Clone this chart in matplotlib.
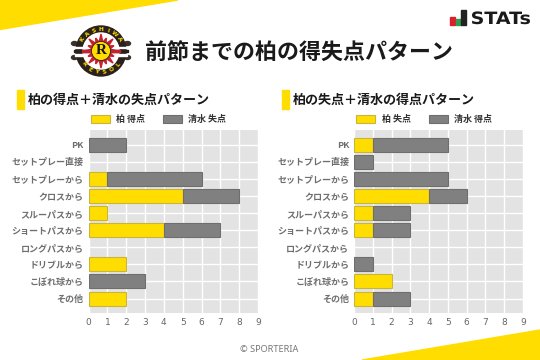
import numpy as np
import matplotlib
matplotlib.use('Agg')
import matplotlib.pyplot as plt
from matplotlib.patches import Circle, Polygon, Rectangle, Ellipse, PathPatch
from matplotlib.textpath import TextPath
from matplotlib.font_manager import FontProperties
from matplotlib.transforms import Affine2D

plt.rcParams['font.family'] = ['Noto Sans CJK JP', 'DejaVu Sans']

categories = ['PK', 'セットプレー直接', 'セットプレーから', 'クロスから', 'スルーパスから',
              'ショートパスから', 'ロングパスから', 'ドリブルから', 'こぼれ球から', 'その他']

left_title = '柏の得点＋清水の失点パターン'
left_names = ['柏 得点', '清水 失点']
left_kashiwa = [0, 0, 1, 5, 1, 4, 0, 2, 0, 2]
left_shimizu = [2, 0, 5, 3, 0, 3, 0, 0, 3, 0]

right_title = '柏の失点＋清水の得点パターン'
right_names = ['柏 失点', '清水 得点']
right_kashiwa = [1, 0, 0, 4, 1, 1, 0, 0, 2, 1]
right_shimizu = [4, 1, 5, 2, 2, 2, 0, 1, 0, 2]

YELLOW = '#FFDD00'
GRAY = '#808080'
W, H = 540, 360


def draw_panel(rect, kashiwa, shimizu, names):
    ax = fig.add_axes([rect[0] / W, 1 - rect[3] / H, (rect[2] - rect[0]) / W, (rect[3] - rect[1]) / H])
    y = np.arange(len(categories))
    k = np.array(kashiwa)
    s = np.array(shimizu)
    ax.set_facecolor('#e3e3e3')
    # zero rows are skipped, otherwise the edge shows up as a tick
    ax.barh(y[k > 0], k[k > 0], height=0.82, color=YELLOW, edgecolor='#c9b53a', linewidth=0.8, label=names[0], zorder=3)
    ax.barh(y[s > 0], s[s > 0], left=k[s > 0], height=0.82, color=GRAY, edgecolor='#6e6e6e', linewidth=0.8, label=names[1], zorder=3)
    ax.set_xlim(0, 9)
    ax.set_ylim(len(categories) - 0.17, -0.87)
    ax.set_xticks(range(10))
    ax.set_yticks(y, categories)
    ax.grid(color='white', linewidth=1.0, zorder=1)
    ax.set_axisbelow(True)
    for sp in ax.spines.values():
        sp.set_visible(False)
    ax.tick_params(axis='x', length=0, labelsize=6.5, labelcolor='#666666', pad=4)
    ax.tick_params(axis='y', length=0, labelsize=6.5, labelcolor='#555555', pad=3.5)
    for t in ax.get_xticklabels():
        t.set_family('DejaVu Sans')
    for t in ax.get_yticklabels():
        t.set_weight('bold')
        t.set_alpha(0.85)
    leg = ax.legend(loc='lower left', bbox_to_anchor=(-0.005, 1.015), ncols=2, frameon=False, fontsize=6.5,
                    handlelength=2.1, handleheight=0.9, handletextpad=0.7, columnspacing=2.0,
                    borderaxespad=0.1, borderpad=0.25, labelcolor='#333333')
    for t in leg.get_texts():
        t.set_weight('bold')
    return ax


def draw_logo(bg):
    cx, cy = 101, 51
    dark = '#2a211c'
    # side wings
    for side in (-1, 1):
        for dy in (-7.5, 6.5):
            bg.add_patch(Ellipse((cx + side * 26.5, cy + dy), 6, 4, color='#3a3028', zorder=3))
    bg.add_patch(Circle((cx, cy), 25, color=dark, zorder=4))
    bg.add_patch(Circle((cx, cy), 18, color='white', zorder=5))
    # sun rays
    for i, a in enumerate(np.arange(0, 360, 22.5)):
        t = np.radians(a)
        r = 17 if i % 2 == 0 else 14
        n = np.array([-np.sin(t), np.cos(t)])
        d = np.array([np.cos(t), np.sin(t)])
        p0 = np.array([cx, cy]) + d * 8
        bg.add_patch(Polygon([p0 + n * 2, p0 - n * 2, np.array([cx, cy]) + d * r], color='#c8202f', zorder=6))
    # white gaps cutting the ring at the sides
    for side in (-1, 1):
        for dy in (-4.5, 3):
            x0 = cx + 17 if side > 0 else cx - 26
            bg.add_patch(Rectangle((x0, cy + dy), 9, 1.6, color='white', zorder=6))
    bg.add_patch(Rectangle((cx - 27, cy - 1.4), 54, 2.8, color=dark, zorder=6))
    bg.add_patch(Rectangle((cx - 19, cy - 0.7), 38, 1.4, color='#c8202f', zorder=6))
    bg.add_patch(Circle((cx, cy), 9.5, color=YELLOW, ec=dark, lw=0.6, zorder=7))
    bg.text(cx, cy, 'R', fontsize=11, family='Liberation Serif', weight='bold', color='#1a1410',
            ha='center', va='center', zorder=8)
    # ring lettering
    for txt, start, stop, sgn in (('KASHIWA', 148, 32, 1), ('REYSOL', 218, 322, -1)):
        for ch, a in zip(txt, np.linspace(start, stop, len(txt))):
            t = np.radians(a)
            bg.text(cx + 21.5 * np.cos(t), cy - 21.5 * np.sin(t), ch, fontsize=4.2, weight='bold',
                    family='DejaVu Sans', color=YELLOW, ha='center', va='center',
                    rotation=a - 90 if sgn > 0 else a + 90, zorder=8)


fig = plt.figure(figsize=(5.4, 3.6), dpi=100, facecolor='white')

# pixel canvas for the decoration
bg = fig.add_axes([0, 0, 1, 1], zorder=0)
bg.set_xlim(0, W)
bg.set_ylim(H, 0)
bg.axis('off')

bg.add_patch(Polygon([(0, 0), (178, 0), (0, 29.5)], color=YELLOW))
bg.add_patch(Polygon([(540, 330), (362, 360), (540, 360)], color=YELLOW))

draw_logo(bg)
bg.text(145, 53, '前節までの柏の得失点パターン', fontsize=15.8, weight='bold', color='#1a1a1a', va='center')

# STATs mark
bg.add_patch(Rectangle((450, 17), 5, 8, color='#d9202c'))
bg.add_patch(Rectangle((455.5, 19), 5, 6, color='#2e9e4f'))
bg.add_patch(Rectangle((461, 10), 4.5, 15, color='#222222'))
stats_path = TextPath((0, 0), 'STATs', size=17, prop=FontProperties(family='DejaVu Sans', weight='bold'))
stats_box = stats_path.get_extents()
sx = 58 / stats_box.width
bg.add_patch(PathPatch(stats_path, color='#1a1a1a', lw=0,
                       transform=Affine2D().scale(sx, -1).translate(472 - stats_box.x0 * sx, 24) + bg.transData))

# section headings
bg.add_patch(Rectangle((17, 90), 7, 19, color=YELLOW))
bg.text(28, 99.5, left_title, fontsize=9.4, weight='bold', color='#1a1a1a', va='center')
bg.add_patch(Rectangle((282, 90), 7, 19, color=YELLOW))
bg.text(293, 99.5, right_title, fontsize=9.4, weight='bold', color='#1a1a1a', va='center')

draw_panel((88.5, 130, 258, 312.7), left_kashiwa, left_shimizu, left_names)
draw_panel((354, 130, 523, 312.7), right_kashiwa, right_shimizu, right_names)

bg.text(269, 350, '© SPORTERIA', family=['Noto Sans', 'DejaVu Sans'], fontsize=6.6, color='#777777',
        ha='center', va='center')

fig.savefig('out.png', dpi=100)
